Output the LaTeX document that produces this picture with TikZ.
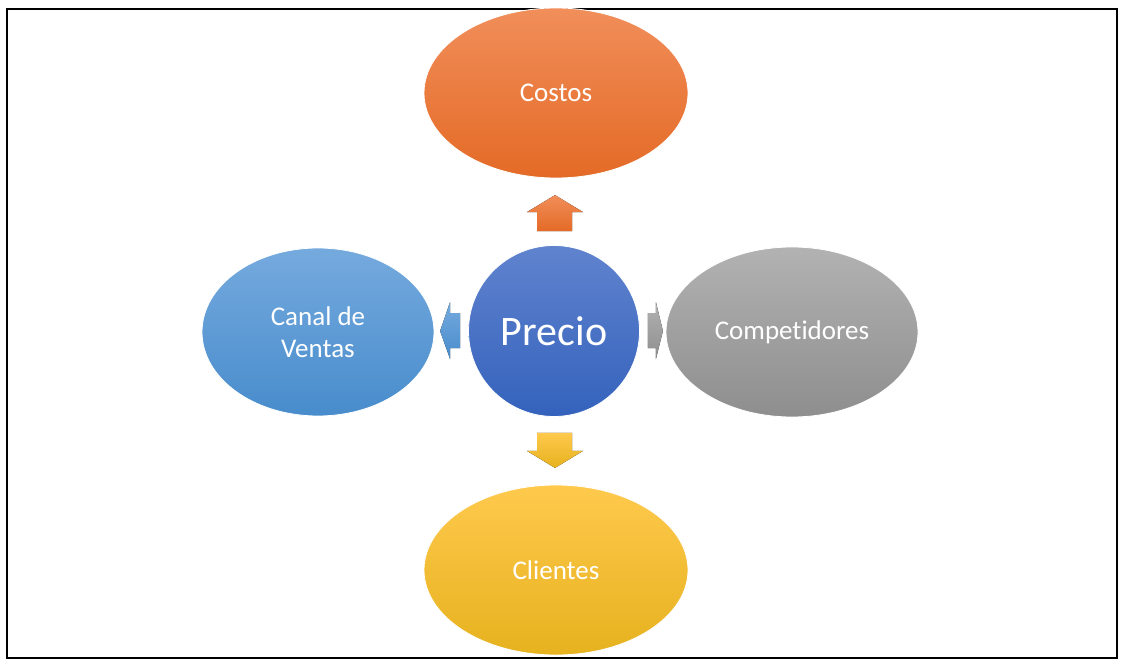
\documentclass[tikz,border=0pt]{standalone}
\usepackage{fontspec}
\setmainfont[Ligatures=CommonOff]{Carlito}
\usepackage{tikz}
\usetikzlibrary{calc,positioning,shapes.geometric}

\definecolor{costosT}{RGB}{241,142,90}
\definecolor{costosB}{RGB}{228,106,38}
\definecolor{precioT}{RGB}{96,131,206}
\definecolor{precioB}{RGB}{52,98,188}
\definecolor{canalT}{RGB}{117,170,222}
\definecolor{canalB}{RGB}{72,140,204}
\definecolor{compT}{RGB}{178,178,178}
\definecolor{compB}{RGB}{142,142,142}
\definecolor{cliT}{RGB}{255,201,77}
\definecolor{cliB}{RGB}{230,178,30}

\begin{document}
\begin{tikzpicture}[x=1pt,y=-1pt,
		factor/.style={ellipse,inner sep=0pt,draw=white,line width=0.8pt,text=white,font=\fontsize{27}{32}\selectfont,align=center},
		blockarrow/.style={line width=0pt}]
			\useasboundingbox (0,0) rectangle (1126,668);
			\draw[line width=2pt] (7,9) rectangle (1117,658);
			\node[factor,minimum width=264pt,minimum height=170pt,top color=costosT,bottom color=costosB] (costos) at (556,93) {Costos};
			\node[factor,minimum width=264pt,minimum height=170pt,top color=cliT,bottom color=cliB] (clientes) at (556,570) {Clientes};
			\node[factor,minimum width=232pt,minimum height=168pt,top color=canalT,bottom color=canalB] (canal) at (318,332) {Canal de\\Ventas};
			\node[factor,minimum width=252pt,minimum height=170pt,top color=compT,bottom color=compB] (comp) at (792,332) {Competidores};
			\node[factor,circle,minimum size=171pt,top color=precioT,bottom color=precioB,font=\fontsize{42}{50}\selectfont] (precio) at (554,331) {Precio};
			% flechas
			\fill[blockarrow,top color=costosT,bottom color=costosB,shift={(precio.north)}] (-17,-14) -- (18,-14) -- (18,-33) -- (29,-33) -- (1,-50) -- (-27,-33) -- (-17,-33) -- cycle;
			\fill[blockarrow,top color=cliT,bottom color=cliB,shift={(precio.south)}] (-17,16) -- (18,16) -- (18,34) -- (29,34) -- (1,51) -- (-27,34) -- (-17,34) -- cycle;
			\fill[blockarrow,top color=canalT,bottom color=canalB,shift={(precio.west)}] (-8,-18) -- (-8,17) -- (-18,17) -- (-18,28) -- (-28,0) -- (-18,-29) -- (-18,-18) -- cycle;
			\fill[blockarrow,top color=compT,bottom color=compB,shift={(precio.east)}] (8,-18) -- (8,17) -- (16,17) -- (16,28) -- (23,0) -- (16,-29) -- (16,-18) -- cycle;
\end{tikzpicture}
\end{document}
